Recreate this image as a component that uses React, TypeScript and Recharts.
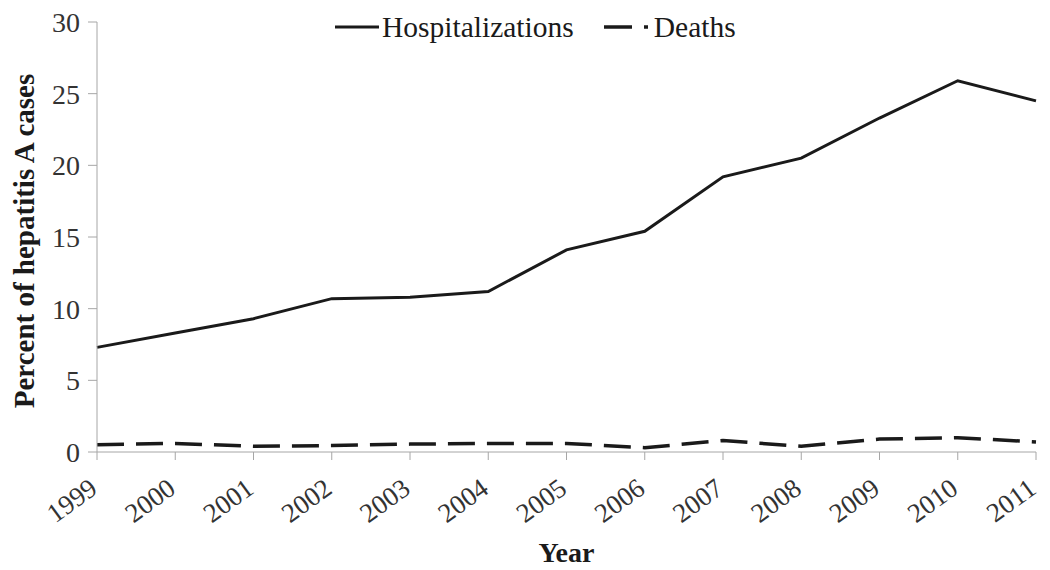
import { LineChart, Line, XAxis, YAxis, Label } from 'recharts'

const YEARS = ['1999', '2000', '2001', '2002', '2003', '2004', '2005', '2006', '2007', '2008', '2009', '2010', '2011']
const HOSPITALIZATIONS = [7.3, 8.3, 9.3, 10.7, 10.8, 11.2, 14.1, 15.4, 19.2, 20.5, 23.3, 25.9, 24.5]
const DEATHS = [0.5, 0.6, 0.4, 0.45, 0.55, 0.6, 0.6, 0.3, 0.8, 0.4, 0.9, 1.0, 0.7]
const Y_TICKS = [0, 5, 10, 15, 20, 25, 30]

const SERIES_HOSP = 'Hospitalizations'
const SERIES_DEATHS = 'Deaths'

const FONT = "'Liberation Serif', 'Times New Roman', serif"
const INK = '#1a1a1a'
const TICK_INK = '#333'
const AXIS = '#a6a6a6'

const data = YEARS.map((year, i) => ({
    year,
    hosp: HOSPITALIZATIONS[i],
    deaths: DEATHS[i]
}))

const XTick = ({ x, y, payload }: any) => {
    const tx = x + 2
    const ty = y + 30
    return (
        <text
            x={tx}
            y={ty}
            textAnchor='end'
            transform={`rotate(-36, ${tx}, ${ty})`}
            fontFamily={FONT}
            fontSize={27}
            fill={TICK_INK}
        >
            {payload.value}
        </text>
    )
}

const YTitle = ({ viewBox }: any) => {
    const cx = viewBox.x + 24
    const cy = viewBox.y + viewBox.height / 2 + 4
    return (
        <text
            x={cx}
            y={cy}
            textAnchor='middle'
            dominantBaseline='central'
            transform={`rotate(-90, ${cx}, ${cy})`}
            fontFamily={FONT}
            fontWeight='bold'
            fontSize={29}
            fill={INK}
        >
            Percent of hepatitis A cases
        </text>
    )
}

const ChartLegend = () => (
    <div
        style={{
            position: 'absolute',
            top: 11,
            left: 335,
            display: 'flex',
            alignItems: 'center',
            fontFamily: FONT,
            fontSize: 29.5,
            lineHeight: '32px',
            color: INK
        }}
    >
        <svg width={44} height={20}>
            <line x1={0} y1={10} x2={44} y2={10} stroke={INK} strokeWidth={3} />
        </svg>
        <span style={{ marginLeft: 3 }}>{SERIES_HOSP}</span>
        <svg width={46} height={20} style={{ marginLeft: 30 }}>
            <line x1={0} y1={10} x2={28} y2={10} stroke={INK} strokeWidth={3.5} />
            <line x1={40} y1={10} x2={44} y2={10} stroke={INK} strokeWidth={3.5} />
        </svg>
        <span style={{ marginLeft: 4 }}>{SERIES_DEATHS}</span>
    </div>
)

const App = () => {
    return (
        <div
            style={{
                position: 'absolute',
                left: 0,
                top: 0,
                width: 1050,
                height: 570,
                background: '#fff'
            }}
        >
            <LineChart
                width={1050}
                height={570}
                data={data}
                margin={{ top: 22, right: 14, bottom: 0, left: 0 }}
            >
                <XAxis
                    dataKey='year'
                    height={118}
                    stroke={AXIS}
                    tickSize={8}
                    tick={<XTick />}
                    interval={0}
                >
                    <Label
                        value='Year'
                        position='insideBottom'
                        offset={8}
                        style={{
                            fontFamily: FONT,
                            fontWeight: 'bold',
                            fontSize: 28,
                            fill: INK
                        }}
                    />
                </XAxis>
                <YAxis
                    width={97}
                    domain={[0, 30]}
                    ticks={Y_TICKS}
                    stroke={AXIS}
                    tickSize={9}
                    tickMargin={8}
                    tick={{ fontFamily: FONT, fontSize: 28, fill: TICK_INK }}
                    label={<YTitle />}
                />
                <Line
                    type='linear'
                    dataKey='hosp'
                    name={SERIES_HOSP}
                    stroke={INK}
                    strokeWidth={3}
                    dot={false}
                    isAnimationActive={false}
                />
                <Line
                    type='linear'
                    dataKey='deaths'
                    name={SERIES_DEATHS}
                    stroke={INK}
                    strokeWidth={3.5}
                    strokeDasharray='27 12'
                    dot={false}
                    isAnimationActive={false}
                />
            </LineChart>
            <ChartLegend />
        </div>
    )
}

export default App
